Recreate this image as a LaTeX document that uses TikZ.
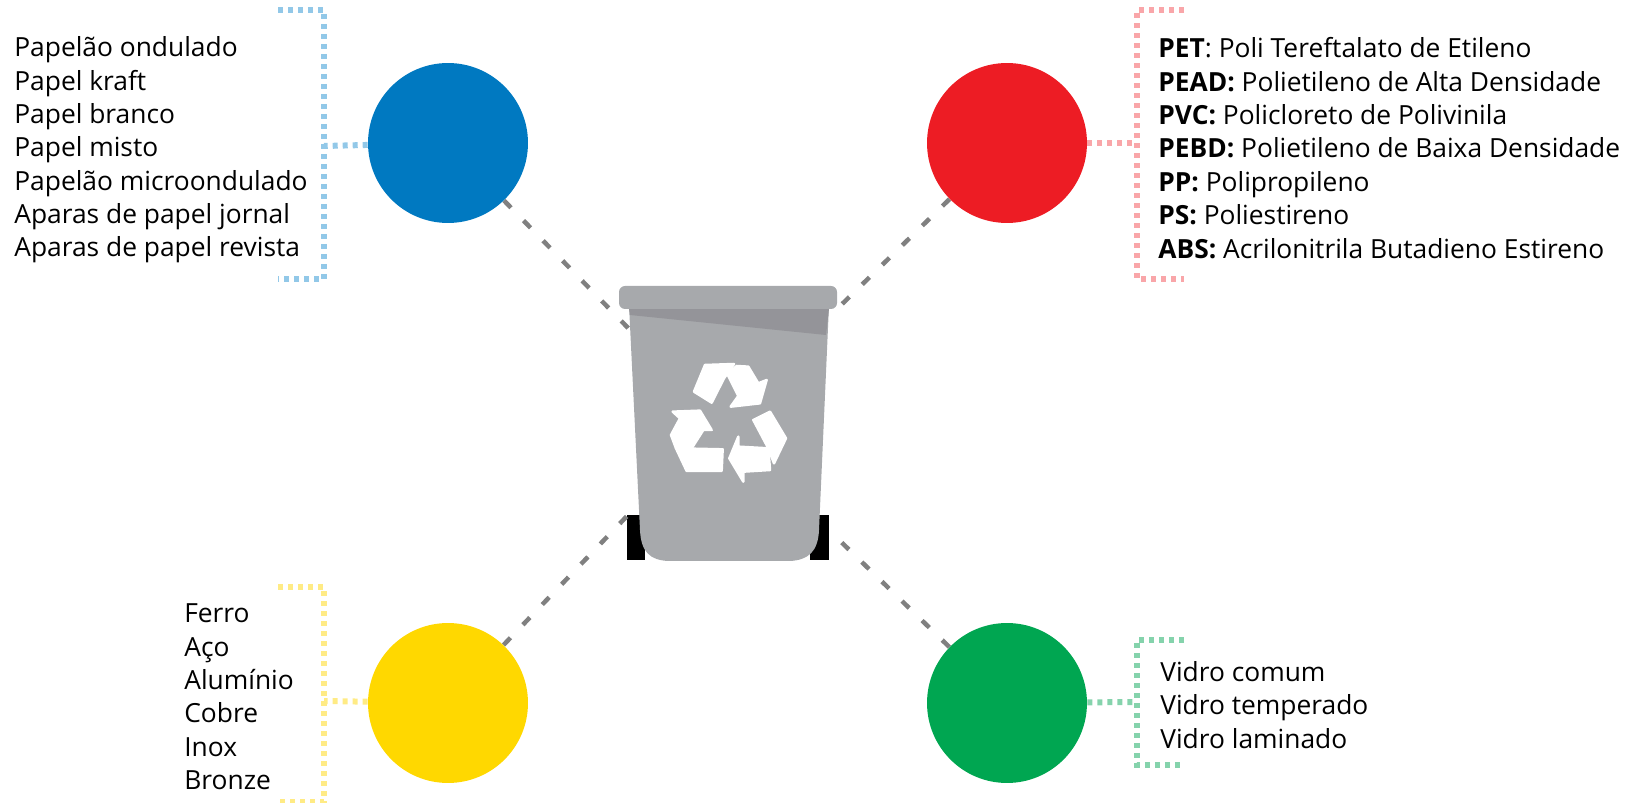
\documentclass[tikz,border=0pt]{standalone}
\usepackage{fontspec}
\setmainfont{Open Sans}
\usetikzlibrary{calc}
\definecolor{azul}{HTML}{0079C1}
\definecolor{vermelho}{HTML}{ED1C24}
\definecolor{amarelo}{HTML}{FFD800}
\definecolor{verde}{HTML}{00A651}
\definecolor{azulclaro}{HTML}{92C8E8}
\definecolor{vermelhoclaro}{HTML}{F9A6A9}
\definecolor{amareloclaro}{HTML}{FFEB85}
\definecolor{verdeclaro}{HTML}{85D3AC}
\definecolor{lixeira}{HTML}{A7A9AC}
\definecolor{sombra}{HTML}{949499}
\begin{document}
\begin{tikzpicture}
        [x=0.02cm, y=-0.02cm,
        bola/.style={circle, minimum size=3.2cm, inner sep=0pt},
        lista/.style={align=left, font=\fontsize{15}{19}\selectfont, inner sep=0pt},
        colchete/.style={line width=1.2mm, dash pattern=on 1mm off 1mm},
        ligacao/.style={line width=0.9mm, gray, dash pattern=on 2mm off 3.6mm},
        reciclo/.style={fill=white, draw=white, line width=0.5mm, line join=round}]
            \useasboundingbox (0,0) rectangle (1650,803);
            %bolas
            \node (azul) at (448,143)[bola, fill=azul]{};
            \node (vermelho) at (1007,143)[bola, fill=vermelho]{};
            \node (amarelo) at (448,703)[bola, fill=amarelo]{};
            \node (verde) at (1007,703)[bola, fill=verde]{};
            %corpo da lixeira
            \fill[black] (627,515) rectangle (645,560);
            \fill[black] (810,515) rectangle (829,560);
            \fill[lixeira] (629,305)-- (829,305)-- (819,530)..controls (818,552) and (808,560).. (790,561)
            -- (668,561)..controls (650,560) and (641,552).. (640,530)-- cycle;
            \fill[sombra] (629,309)-- (829,309)-- (826,335)-- (630,315)-- cycle;
            \fill[lixeira, rounded corners=1.2mm] (619,286) rectangle (837,309);
            %simbolo de reciclagem
            \begin{scope}[shift={(590,270)}, x=0.00667cm, y=-0.00667cm]
                \path[reciclo] (345,285)-- (432,282)-- (402,325)-- (365,398)-- (312,365)-- cycle;
                \path[reciclo] (412,312)-- (440,288)-- (475,290)-- (505,340)-- (530,330)-- (510,400)-- (422,410)-- (445,378)-- cycle;
                \path[reciclo] (490,450)-- (540,425)-- (588,505)-- (552,580)-- (535,535)-- cycle;
                \path[reciclo] (535,535)-- (540,600)-- (460,605)-- (460,635)-- (418,565)-- (445,500)-- (445,530)-- cycle;
                \path[reciclo] (258,535)-- (398,538)-- (395,603)-- (290,603)-- cycle;
                \path[reciclo] (248,425)-- (330,422)-- (365,480)-- (340,480)-- (305,535)-- (258,535)-- (243,495)-- (270,445)-- cycle;
            \end{scope}
            %pontos da lixeira
            \coordinate (binA) at (631,331);
            \coordinate (binV) at (836,310);
            \coordinate (binY) at (628,515);
            \coordinate (binG) at (836,537);
            %ligacoes
            \draw[ligacao] (azul)-- (binA);
            \draw[ligacao] (vermelho)-- (binV);
            \draw[ligacao] (amarelo)-- (binY);
            \draw[ligacao] (verde)-- (binG);
            %colchetes
            \draw[colchete, azulclaro] (278,10)-- (324,10)-- (324,279)-- (278,279);
            \coordinate (meioA) at (324,146);
            \draw[colchete, azulclaro] (azul)-- (meioA);
            \draw[colchete, vermelhoclaro] (1184,10)-- (1137,10)-- (1137,279)-- (1184,279);
            \coordinate (meioV) at (1137,143);
            \draw[colchete, vermelhoclaro] (vermelho)-- (meioV);
            \draw[colchete, amareloclaro] (278,587)-- (324,587)-- (324,802)-- (278,802);
            \coordinate (meioY) at (324,701);
            \draw[colchete, amareloclaro] (amarelo)-- (meioY);
            \draw[colchete, verdeclaro] (1184,640)-- (1137,640)-- (1137,765)-- (1184,765);
            \coordinate (meioG) at (1137,702);
            \draw[colchete, verdeclaro] (verde)-- (meioG);
            %listas
            \node (papel) at (14,150)[right, lista]{Papelão ondulado\\Papel kraft\\Papel branco\\Papel misto\\Papelão microondulado\\Aparas de papel jornal\\Aparas de papel revista};
            \node (plastico) at (1158,148)[right, lista]{\textbf{PET}: Poli Tereftalato de Etileno\\\textbf{PEAD:} Polietileno de Alta Densidade\\\textbf{PVC:} Policloreto de Polivinila\\\textbf{PEBD:} Polietileno de Baixa Densidade\\\textbf{PP:} Polipropileno\\\textbf{PS:} Poliestireno\\\textbf{ABS:} Acrilonitrila Butadieno Estireno};
            \node (metal) at (184,697)[right, lista]{Ferro\\Aço\\Alumínio\\Cobre\\Inox\\Bronze};
            \node (vidro) at (1160,705)[right, lista]{Vidro comum\\Vidro temperado\\Vidro laminado};
    \end{tikzpicture}
\end{document}
